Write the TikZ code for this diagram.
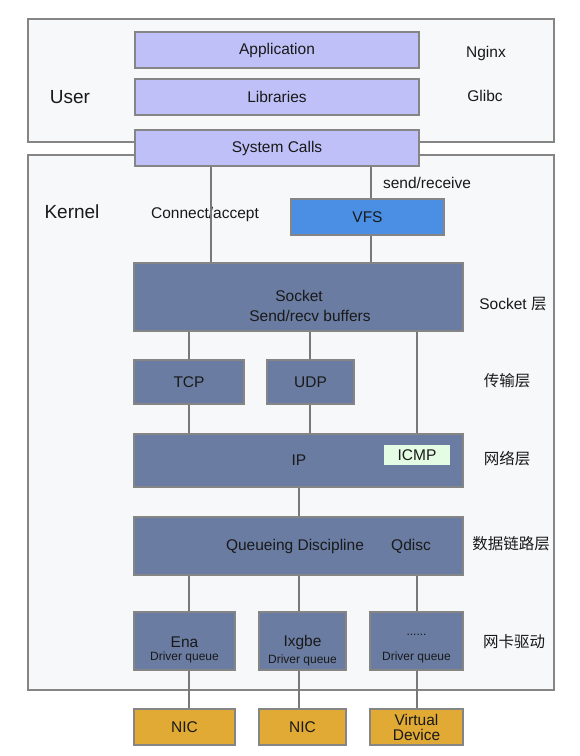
\documentclass[tikz,border=0pt]{standalone}
\usepackage{fontspec}
\setmainfont{Liberation Sans}
\newfontfamily\cjk{Noto Sans CJK SC}
\usepackage{tikz}
\usetikzlibrary{positioning}

\definecolor{framebg}{HTML}{F7F8FA}
\definecolor{edgegray}{HTML}{858585}
\definecolor{lavender}{HTML}{BFC0F7}
\definecolor{vfsblue}{HTML}{4A8FE3}
\definecolor{slate}{HTML}{6A7CA2}
\definecolor{icmpgreen}{HTML}{E4FBE4}
\definecolor{nicgold}{HTML}{E0AA35}

\tikzset{
	frame/.style={draw=edgegray, fill=framebg, line width=1.5pt},
	box/.style={draw=edgegray, line width=1.5pt, inner sep=0pt, text=black!90,
		font=\fontsize{15.5}{18}\selectfont},
	lav/.style={box, fill=lavender},
	dark/.style={box, fill=slate},
	wire/.style={draw=edgegray!90!black, line width=1.5pt},
	txt/.style={inner sep=0pt, text=black!90, font=\fontsize{15.5}{18}\selectfont},
	small/.style={inner sep=0pt, text=black!90, font=\fontsize{12}{14}\selectfont},
	big/.style={inner sep=0pt, text=black!90, font=\fontsize{19}{22}\selectfont}
}

\begin{document}
\begin{tikzpicture}[x=1pt, y=-1pt]
	\useasboundingbox[fill=white] (0,0) rectangle (580,756);
	% frames
	\draw[frame] (28,19) rectangle (554,142);
	\draw[frame] (28,155) rectangle (554,690);
	\node[big] (user) at (70,97) {User};
	\node[big] (kernel) at (72,212) {Kernel};

	% user space
	\node[lav, minimum width=284pt, minimum height=36pt] (app) at (277,50) {Application};
	\node[lav, minimum width=284pt, minimum height=36pt] (lib) at (277,97) {Libraries};
	\node[lav, minimum width=284pt, minimum height=36pt] (sys) at (277,148) {System Calls};
	\node[txt] (nginx) at (486,53) {Nginx};
	\node[txt] (glibc) at (485,96) {Glibc};

	% kernel
	\node[box, fill=vfsblue, minimum width=153pt, minimum height=36pt] (vfs) at (367.5,217) {VFS};
	\node[dark, minimum width=329pt, minimum height=68pt] (sock) at (298.5,297) {};
	\node[txt] (socka) at (299,296) {Socket};
	\node[txt] (sockb) at (310,316) {Send/recv buffers};
	\node[dark, minimum width=110pt, minimum height=44pt] (tcp) at (189,382) {TCP};
	\node[dark, minimum width=87pt, minimum height=44pt] (udp) at (310.5,382) {UDP};
	\node[dark, minimum width=329pt, minimum height=53pt] (ip) at (298.5,460.5) {};
	\node[txt] (iptxt) at (299,460) {IP};
	\node[box, draw=none, fill=icmpgreen, minimum width=66pt, minimum height=20pt] (icmp) at (417,455) {ICMP};
	\node[dark, minimum width=329pt, minimum height=58pt] (qd) at (298.5,546) {};
	\node[txt] (qdtxt) at (295,546) {Queueing Discipline};
	\node[txt] (qdisc) at (411,546) {Qdisc};

	% drivers
	\node[dark, minimum width=101pt, minimum height=58pt] (ena) at (184.5,641) {};
	\node[dark, minimum width=87pt, minimum height=58pt] (ixgbe) at (302.5,641) {};
	\node[dark, minimum width=93pt, minimum height=58pt] (drv) at (416.5,641) {};
	\node[txt] at (184.5,642) {Ena};
	\node[small] at (184.5,657) {Driver queue};
	\node[txt] at (302.5,642) {Ixgbe};
	\node[small] at (302.5,660) {Driver queue};
	\node[small] at (416.5,635) {......};
	\node[small] at (416.5,657) {Driver queue};

	% devices
	\node[box, fill=nicgold, minimum width=101pt, minimum height=36pt] (nica) at (184.5,727) {NIC};
	\node[box, fill=nicgold, minimum width=87pt, minimum height=36pt] (nicb) at (302.5,727) {NIC};
	\node[box, fill=nicgold, minimum width=93pt, minimum height=36pt, align=center,
		font=\fontsize{15.5}{15}\selectfont] (vdev) at (416.5,727) {Virtual\\Device};

	% labels
	\node[txt] (conn) at (205,214) {Connect/accept};
	\node[txt] (sendrecv) at (427,183) {send/receive};
	\node[txt] (lsock) at (513,304) {Socket {\cjk 层}};
	\node[txt] (ltrans) at (507,381) {\cjk 传输层};
	\node[txt] (lnet) at (507,459) {\cjk 网络层};
	\node[txt] (llink) at (511,544) {\cjk 数据链路层};
	\node[txt] (ldrv) at (514,642) {\cjk 网卡驱动};

	% wires
	\coordinate (ca) at (211,0);
	\coordinate (sr) at (371,0);
	\coordinate (pa) at (189,0);
	\coordinate (pu) at (310,0);
	\coordinate (pb) at (299,0);
	\coordinate (pc) at (417,0);
	\draw[wire] (ca |- sys.south) -- (ca |- sock.north);
	\draw[wire] (sr |- sys.south) -- (sr |- vfs.north);
	\draw[wire] (sr |- vfs.south) -- (sr |- sock.north);
	\draw[wire] (tcp.north |- sock.south) -- (tcp.north);
	\draw[wire] (pu |- sock.south) -- (pu |- udp.north);
	\draw[wire] (icmp |- sock.south) -- (icmp |- ip.north);
	\draw[wire] (tcp.south) -- (tcp.south |- ip.north);
	\draw[wire] (pu |- udp.south) -- (pu |- ip.north);
	\draw[wire] (pb |- ip.south) -- (pb |- qd.north);
	\foreach \p/\d/\n in {pa/ena/nica, pb/ixgbe/nicb, pc/drv/vdev} {
		\draw[wire] (\p |- qd.south) -- (\p |- \d.north);
		\draw[wire] (\p |- \d.south) -- (\p |- \n.north);
	}
\end{tikzpicture}
\end{document}
